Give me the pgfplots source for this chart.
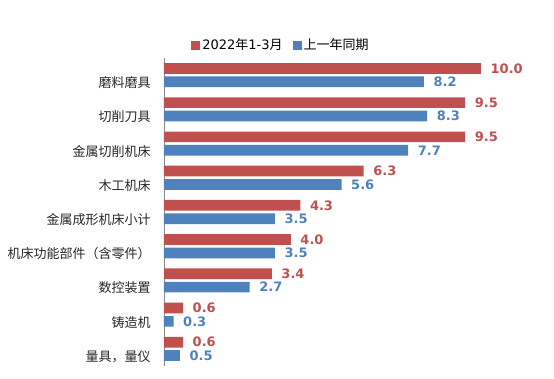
\documentclass[border=0pt]{standalone}
\usepackage{pgfplots}
\pgfplotsset{compat=1.18}
\usepackage{fontspec}
\setmainfont{DejaVu Sans}
\newfontfamily\cjk{Noto Sans CJK SC}
\definecolor{cred}{HTML}{C0504D}
\definecolor{cblue}{HTML}{4F81BD}
\definecolor{axgray}{HTML}{868686}
\begin{document}
\begin{tikzpicture}
\path[use as bounding box] (0,0) rectangle (554pt,379pt);
\begin{axis}[
  at={(164pt,13pt)}, anchor=south west,
  scale only axis, width=367.7pt, height=308pt,
  xmin=0, xmax=11.6, ymin=-0.5, ymax=8.5,
  y dir=reverse,
  xbar, bar width=10.7pt,
  hide x axis,
  axis y line*=left,
  y axis line style={axgray, line width=0.8pt, -},
  ytick={0,...,8},
  ytick style={draw=none},
  yticklabels={磨料磨具,切削刀具,金属切削机床,木工机床,金属成形机床小计,机床功能部件（含零件）,数控装置,铸造机,量具，量仪},
  yticklabel style={font=\cjk\fontsize{13}{15}\selectfont, color=black!85, inner sep=0pt, anchor=east, xshift=-9pt, yshift=-7.5pt},
  nodes near coords,
  nodes near coords style={font=\bfseries\fontsize{13}{15}\selectfont, anchor=west, inner sep=0pt, xshift=9.5pt},
  /pgf/number format/fixed, /pgf/number format/fixed zerofill, /pgf/number format/precision=1,
  /pgf/number format/assume math mode=true,
  legend columns=2,
  legend style={draw=none, at={(0.318,1.042)}, anchor=center, font=\fontsize{13}{15}\selectfont,
    /tikz/every even column/.append style={column sep=8pt}},
  legend image code/.code={\fill[#1,draw=none] (0pt,-4.5pt) rectangle (9pt,4.5pt);},
]
\addplot[fill=cred, draw=none, bar shift=6.7pt, nodes near coords style={text=cred}] coordinates {
(10.0,0) (9.5,1) (9.5,2) (6.3,3) (4.3,4) (4.0,5) (3.4,6) (0.6,7) (0.6,8)};
\addplot[fill=cblue, draw=none, bar shift=-6.7pt, nodes near coords style={text=cblue}] coordinates {
(8.2,0) (8.3,1) (7.7,2) (5.6,3) (3.5,4) (3.5,5) (2.7,6) (0.3,7) (0.5,8)};
\legend{2022{\cjk 年}1-3{\cjk 月},{\cjk 上一年同期}}
\end{axis}
\end{tikzpicture}
\end{document}
